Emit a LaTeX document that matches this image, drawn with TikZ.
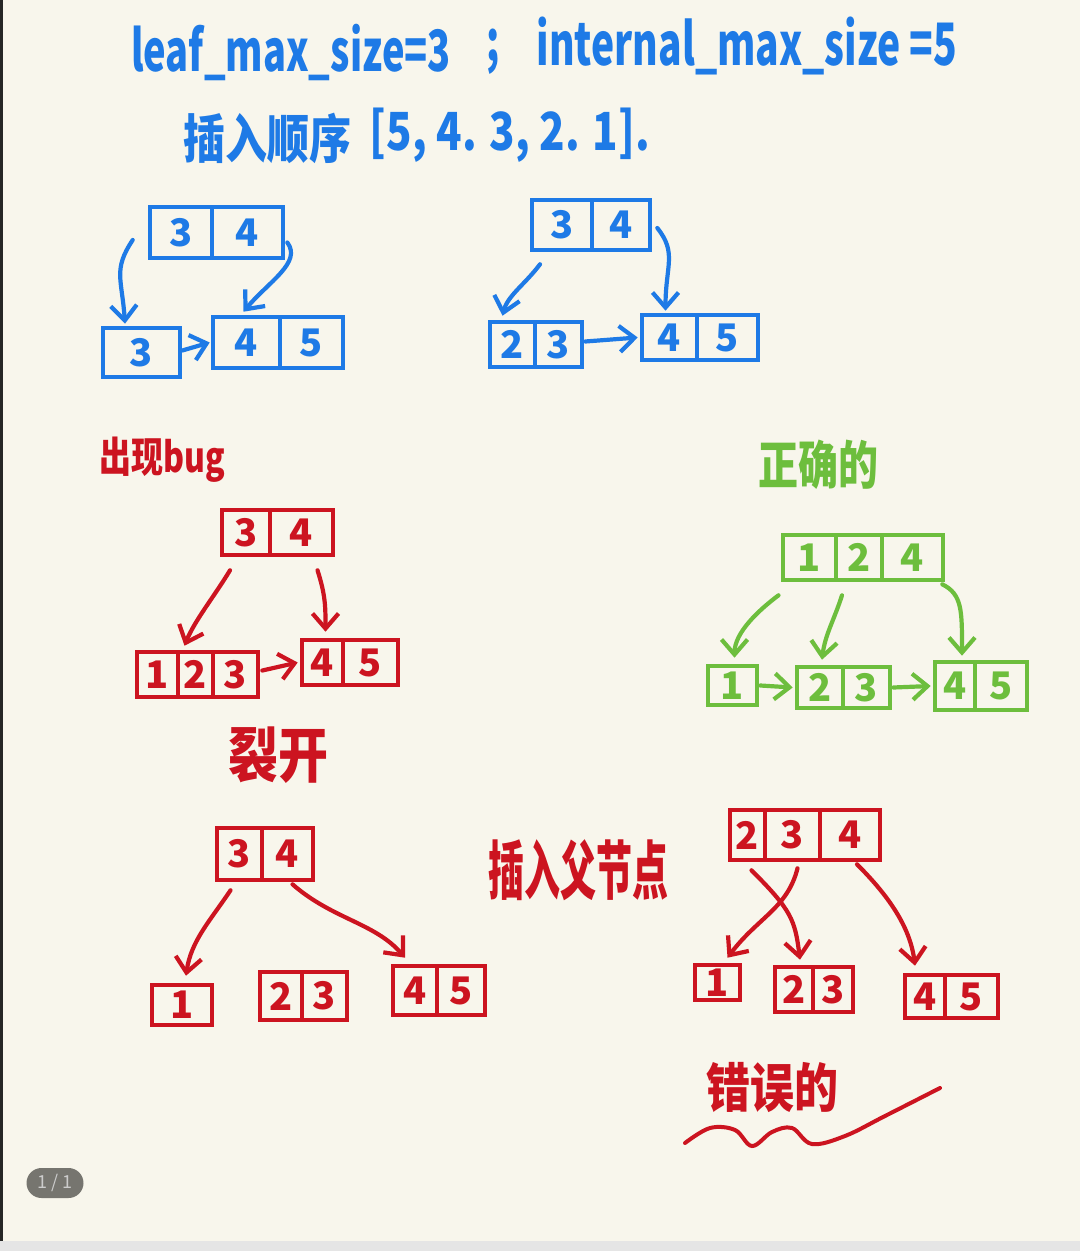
\documentclass[tikz,border=0pt]{standalone}
\usepackage{fontspec}
\setmainfont{Noto Sans CJK SC}
\usetikzlibrary{arrows.meta,fit,calc}
\definecolor{hblue}{HTML}{1E7AE6}
\definecolor{hred}{HTML}{CC1420}
\definecolor{hgreen}{HTML}{6DBE3D}
\definecolor{paper}{HTML}{F8F6EC}
\definecolor{badge}{HTML}{76756F}
\newcommand\cellnode[4]{\node[cb=#1, fit={#3}, label={[ct=#1]center:#4}] (#2) {};}
\begin{document}
\begin{tikzpicture}[x=0.5pt,y=-0.5pt,
  cb/.style={draw=#1, line width=2.3pt, inner sep=0pt},
  ct/.style={text=#1, inner sep=0pt, font=\fontsize{19}{19}\selectfont\bfseries},
  arr/.style={draw=#1, line width=2.1pt, line cap=round, -{Straight Barb[length=7.5pt,width=13pt,line width=2.1pt]}},
  lbl/.style={text=#1, inner sep=0pt}]
% page
\fill[paper] (0,0) rectangle (1080,1251);
\useasboundingbox (0,0) rectangle (1080,1251);
\fill[black!85] (0,0) rectangle (3,1251);
\fill[black!10] (0,1241) rectangle (1080,1251);
% title
\node[lbl=hblue, font=\fontsize{19}{19}\selectfont\bfseries, yscale=1.5] (t1) at (291,52) {leaf\_max\_size=3};
\node[lbl=hblue, font=\fontsize{19}{19}\selectfont\bfseries, yscale=1.5] (t2) at (493,52) {;};
\node[lbl=hblue, font=\fontsize{19.5}{19}\selectfont\bfseries, yscale=1.5] (t3) at (747,46) {internal\_max\_size =5};
\node[lbl=hblue, font=\fontsize{21}{21}\selectfont\bfseries, yscale=1.25] (t4) at (267,138) {插入顺序};
\node[lbl=hblue, font=\fontsize{21}{21}\selectfont\bfseries, yscale=1.25] (t5) at (510,135) {[5, 4. 3, 2. 1].};
% blue 1
\cellnode{hblue}{b1a}{(150,207)(212,258)}{3}
\cellnode{hblue}{b1b}{(212,207)(283,258)}{4}
\cellnode{hblue}{b1c}{(103,328)(180,377)}{3}
\cellnode{hblue}{b1d}{(213,317)(280,368)}{4}
\cellnode{hblue}{b1e}{(280,317)(343,368)}{5}
\draw[arr=hblue] ($(b1a.west)+(-15,7.5)$) .. controls +(-20,30) and +(-3,-45) .. ($(b1c.north)+(-16.5,-2)$);
\draw[arr=hblue] ($(b1b.east)+(2,10)$) .. controls +(15,20) and +(25,-30) .. ($(b1d.north)+(-3,-3)$);
\draw[arr=hblue] ($(b1c.east)+(0,-2)$) -- ($(b1d.west)+(-1,0)$);
% blue 2
\cellnode{hblue}{b2a}{(532,200)(592,250)}{3}
\cellnode{hblue}{b2b}{(592,200)(650,250)}{4}
\cellnode{hblue}{b2c}{(490,322)(535,367)}{2}
\cellnode{hblue}{b2d}{(535,322)(582,367)}{3}
\cellnode{hblue}{b2e}{(642,315)(697,360)}{4}
\cellnode{hblue}{b2f}{(697,315)(758,360)}{5}
\draw[arr=hblue] ($(b2a.south)+(-22,12)$) .. controls +(-15,20) and +(5,-20) .. ($(b2c.north)+(-10,-4)$);
\draw[arr=hblue] ($(b2b.east)+(5,3)$) .. controls +(20,25) and +(0,-45) .. ($(b2e.north)+(-4,-2)$);
\draw[arr=hblue] ($(b2d.east)+(1,-3)$) -- ($(b2e.west)+(-2,0)$);
% red A
\node[lbl=hred, font=\fontsize{16}{16}\selectfont\bfseries, yscale=1.3] (la) at (162,460) {出现bug};
\cellnode{hred}{ra1}{(222,510)(270,555)}{3}
\cellnode{hred}{ra2}{(270,510)(333,555)}{4}
\cellnode{hred}{ra3}{(137,652)(178,697)}{1}
\cellnode{hred}{ra4}{(178,652)(213,697)}{2}
\cellnode{hred}{ra5}{(213,652)(258,697)}{3}
\cellnode{hred}{ra6}{(302,640)(343,685)}{4}
\cellnode{hred}{ra7}{(343,640)(398,685)}{5}
\draw[arr=hred] ($(ra1.south)+(-16,13)$) .. controls +(-15,25) and +(10,-25) .. ($(ra4.north)+(-11,-4)$);
\draw[arr=hred] ($(ra2.south)+(16,13)$) .. controls +(8,25) and +(0,-25) .. ($(ra6.north)+(3,-6)$);
\draw[arr=hred] ($(ra5.east)+(2,-4)$) -- ($(ra6.west)+(-2,0)$);
% green
\node[lbl=hgreen, font=\fontsize{20}{20}\selectfont\bfseries, yscale=1.3] (lg) at (818,465) {正确的};
\cellnode{hgreen}{g1}{(783,535)(836,580)}{1}
\cellnode{hgreen}{g2}{(836,535)(882,580)}{2}
\cellnode{hgreen}{g3}{(882,535)(943,580)}{4}
\cellnode{hgreen}{g4}{(708,666)(757,705)}{1}
\cellnode{hgreen}{g5}{(797,667)(843,708)}{2}
\cellnode{hgreen}{g6}{(843,667)(890,708)}{3}
\cellnode{hgreen}{g7}{(935,662)(975,710)}{4}
\cellnode{hgreen}{g8}{(975,662)(1027,710)}{5}
\draw[arr=hgreen] ($(g1.south)+(-31,13)$) .. controls +(-20,15) and +(0,-25) .. ($(g4.north)+(2,-6)$);
\draw[arr=hgreen] ($(g2.south)+(-17,13)$) .. controls +(-8,25) and +(3,-25) .. ($(g5.north)+(2,-5)$);
\draw[arr=hgreen] ($(g3.south east)+(-3,2)$) .. controls +(20,10) and +(0,-45) .. ($(g7.north)+(7,-4)$);
\draw[arr=hgreen] ($(g4.east)+(1,0)$) -- ($(g5.west)+(-2,0)$);
\draw[arr=hgreen] ($(g6.east)+(1,0)$) -- ($(g7.west)+(-2,0)$);
% red B
\node[lbl=hred, font=\fontsize{25}{25}\selectfont\bfseries, yscale=1.2] (lb) at (278,755) {裂开};
\cellnode{hred}{rb1}{(217,828)(262,880)}{3}
\cellnode{hred}{rb2}{(262,828)(313,880)}{4}
\cellnode{hred}{rb3}{(152,985)(212,1025)}{1}
\cellnode{hred}{rb4}{(260,972)(302,1020)}{2}
\cellnode{hred}{rb5}{(302,972)(347,1020)}{3}
\cellnode{hred}{rb6}{(393,966)(437,1015)}{4}
\cellnode{hred}{rb7}{(437,966)(485,1015)}{5}
\draw[arr=hred] ($(rb1.south)+(-9,8)$) .. controls +(-20,30) and +(5,-35) .. ($(rb3.north)+(4,-7)$);
\draw[arr=hred] ($(rb2.south)+(5,2)$) .. controls +(40,35) and +(-30,-35) .. ($(rb6.north)+(-10,-6)$);
% insert to parent
\node[lbl=hred, font=\fontsize{20}{20}\selectfont\bfseries, xscale=0.9, yscale=1.6] (lc) at (578,870) {插入父节点};
\cellnode{hred}{rc1}{(730,810)(765,860)}{2}
\cellnode{hred}{rc2}{(765,810)(820,860)}{3}
\cellnode{hred}{rc3}{(820,810)(880,860)}{4}
\cellnode{hred}{rc4}{(695,965)(740,1000)}{1}
\cellnode{hred}{rc5}{(775,967)(813,1012)}{2}
\cellnode{hred}{rc6}{(813,967)(853,1012)}{3}
\cellnode{hred}{rc7}{(905,975)(945,1018)}{4}
\cellnode{hred}{rc8}{(945,975)(998,1018)}{5}
\draw[arr=hred] ($(rc1.south)+(4,8)$) .. controls +(40,40) and +(-5,-40) .. ($(rc5.north)+(6,-5)$);
\draw[arr=hred] ($(rc2.south)+(5,6)$) .. controls +(-10,40) and +(30,-40) .. ($(rc4.north)+(10,-5)$);
\draw[arr=hred] ($(rc3.south)+(7,2)$) .. controls +(30,30) and +(-5,-40) .. ($(rc7.north)+(-10,-7)$);
% wrong
\node[lbl=hred, font=\fontsize{22}{22}\selectfont\bfseries, yscale=1.2] (ld) at (772,1088) {错误的};
\draw[hred, line width=2pt, line cap=round] plot[smooth, tension=0.6] coordinates {(685,1143) (710,1128) (735,1130) (752,1146) (772,1132) (792,1128) (812,1144) (845,1136) (885,1116) (940,1088)};
% badge
\node[fill=badge, rounded corners=7.5pt, minimum width=28.5pt, minimum height=15pt, inner sep=0pt, text=black!20, font=\fontsize{9}{9}\selectfont] (pg) at (55,1183) {1 / 1};
\end{tikzpicture}
\end{document}
